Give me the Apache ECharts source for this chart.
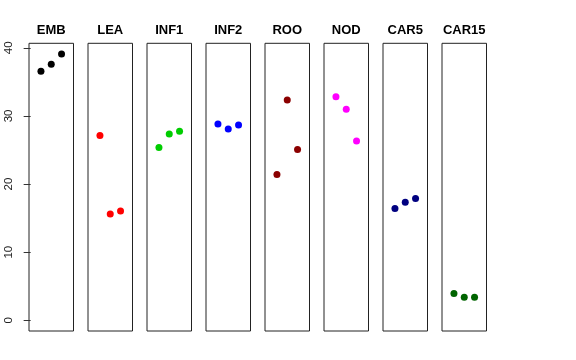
<!DOCTYPE html>
<html><head><meta charset="utf-8">
<script src="https://cdn.jsdelivr.net/npm/echarts@6/dist/echarts.min.js"></script>
<style>html,body{margin:0;padding:0;background:#fff}#c{width:576px;height:360px}</style>
</head><body><div id="c"></div>
<script>
const panels = ['EMB','LEA','INF1','INF2','ROO','NOD','CAR5','CAR15'];
const colors = ['#000000','#FF0000','#00CD00','#0000FF','#8B0000','#FF00FF','#000080','#006400'];
const xPositions = [1,2,3];
const EMB = [36.56, 37.59, 39.1];
const LEA = [27.12, 15.61, 16.05];
const INF1 = [25.36, 27.36, 27.75];
const INF2 = [28.83, 28.09, 28.68];
const ROO = [21.39, 32.35, 25.07];
const NOD = [32.8, 30.98, 26.33];
const CAR5 = [16.4, 17.33, 17.87];
const CAR15 = [3.96, 3.38, 3.38];
const values = [EMB, LEA, INF1, INF2, ROO, NOD, CAR5, CAR15];
const yTicks = [0, 10, 20, 30, 40];

(function () {
const left0 = 29, pw = 44.5, step = 59, gTop = 43.3, ph = 287.7;
const yMin = -1.56, yMax = 40.66, xMin = -0.16, xMax = 4.16;
const font = '"Liberation Sans", Arial, sans-serif';

const grid = [], xAxis = [], yAxis = [], series = [], graphic = [];
panels.forEach((p, i) => {
  const l = left0 + i * step;
  grid.push({left: l, top: gTop, width: pw, height: ph, show: true, borderColor: '#222', borderWidth: 1, containLabel: false});
  xAxis.push({type: 'value', gridIndex: i, min: xMin, max: xMax, show: false});
  yAxis.push({type: 'value', gridIndex: i, min: yMin, max: yMax, show: i === 0,
    splitLine: {show: false},
    axisLine: {show: false},
    axisTick: {show: i === 0, length: 7, lineStyle: {color: '#333'}, customValues: yTicks},
    axisLabel: {show: i === 0, rotate: 90, margin: 14, color: '#222', fontSize: 11.5, fontFamily: font, customValues: yTicks}
  });
  series.push({type: 'scatter', xAxisIndex: i, yAxisIndex: i, symbol: 'circle', symbolSize: 7,
    itemStyle: {color: colors[i], opacity: 1}, silent: true,
    data: xPositions.map((x, k) => [x, values[i][k]])});
  graphic.push({type: 'text', x: l + pw / 2, y: 30, style: {text: p, align: 'center', verticalAlign: 'middle', font: 'bold 13px ' + font, fill: '#000'}});
});

const chart = echarts.init(document.getElementById('c'), null, {renderer: 'canvas'});
chart.setOption({animation: false, backgroundColor: '#fff', grid, xAxis, yAxis, series, graphic});
})();
</script></body></html>
